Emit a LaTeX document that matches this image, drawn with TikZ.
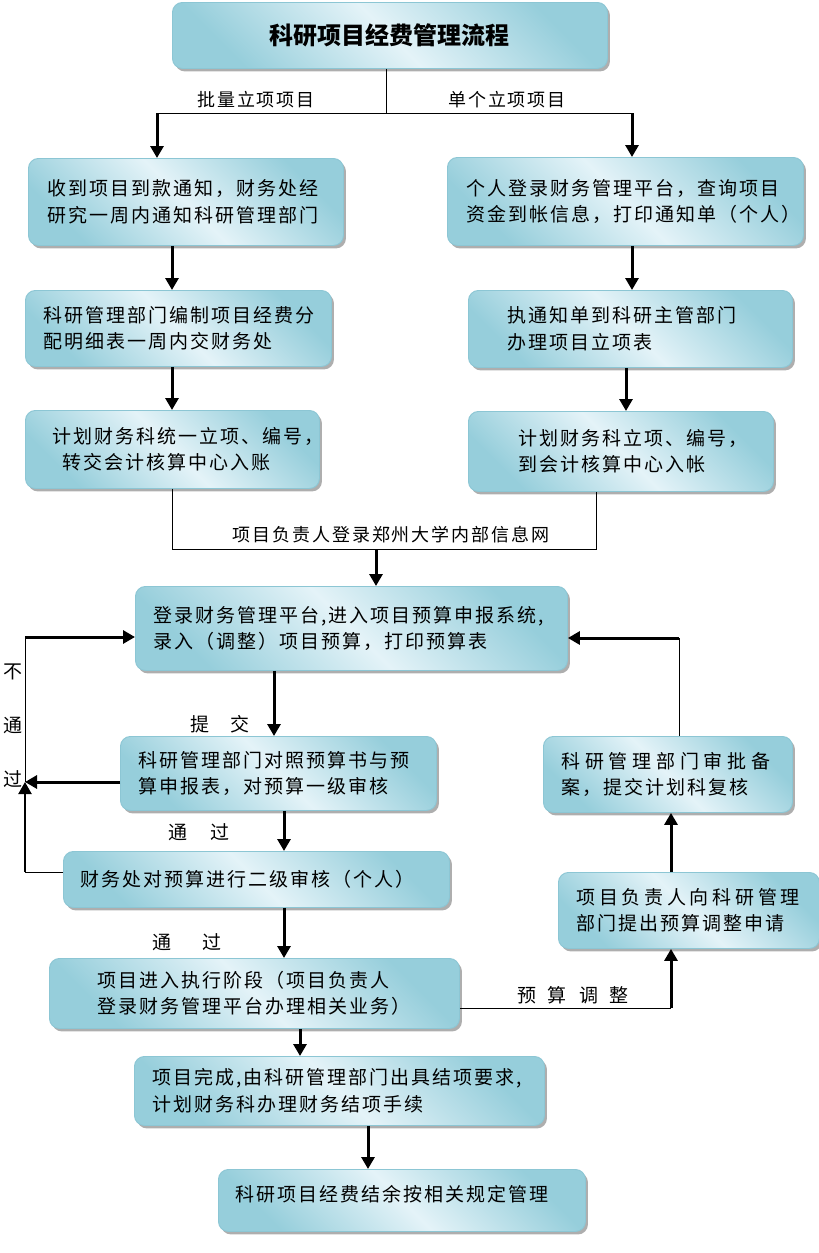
\documentclass[tikz,border=0pt]{standalone}
\usepackage{fontspec}
\setmainfont{Noto Sans CJK SC}
\newfontfamily\cjk[LetterSpace=10.5]{Noto Sans CJK SC}
\usetikzlibrary{arrows.meta,shadows,calc}
\definecolor{boxdark}{HTML}{96CEDB}
\definecolor{boxlight}{HTML}{E4F3F8}
\definecolor{boxborder}{HTML}{8CC6D4}
\newcommand\boxfont{\cjk\fontsize{19}{26.5}\selectfont}
\newcommand\lblfont{\cjk\fontsize{18}{20}\selectfont}
\newcommand\spfont{\fontsize{19}{22}\selectfont}
\tikzset{
  fbox/.style={draw=boxborder, line width=0.9pt, rounded corners=10pt,
    top color=boxdark, bottom color=boxdark, middle color=boxlight, shading angle=-45,
    drop shadow={shadow xshift=2.5pt, shadow yshift=-3pt, fill=black!45, opacity=0.7},
    anchor=north west, align=left, font=\boxfont, text=black, inner xsep=0pt, inner ysep=0pt},
  arr/.style={line width=3pt, -{Triangle[length=12pt,width=13pt]}},
  arrm/.style={line width=2.2pt, -{Triangle[length=12pt,width=13pt]}},
  thinl/.style={line width=1pt},
  lbl/.style={font=\lblfont, inner sep=0pt, text=black},
  splbl/.style={font=\spfont, inner sep=0pt, text=black}
}
\begin{document}
\begin{tikzpicture}[x=1pt,y=-1pt]
\useasboundingbox (0,0) rectangle (819,1253);

% boxes
\node[fbox, text width=435pt, minimum height=66pt, align=center, font=\fontsize{24}{28}\selectfont\bfseries] (title) at (172,2) {科研项目经费管理流程};

\node[fbox, text width=315pt, minimum height=87pt] (L1) at (28,158)
  {\hspace*{19pt}收到项目到款通知，财务处经\\\hspace*{19pt}研究一周内通知科研管理部门};
\node[fbox, text width=356pt, minimum height=88pt] (R1) at (447,157)
  {\hspace*{19pt}个人登录财务管理平台，查询项目\\\hspace*{19pt}资金到帐信息，打印通知单（个人）};
\node[fbox, text width=306pt, minimum height=76pt] (L2) at (25,290)
  {\hspace*{18pt}科研管理部门编制项目经费分\\\hspace*{18pt}配明细表一周内交财务处};
\node[fbox, text width=324pt, minimum height=77pt] (R2) at (468,290)
  {\hspace*{39pt}执通知单到科研主管部门\\\hspace*{39pt}办理项目立项表};
\node[fbox, text width=294pt, minimum height=78pt] (L3) at (25,410)
  {\hspace*{27pt}计划财务科统一立项、编号，\\\hspace*{37pt}转交会计核算中心入账};
\node[fbox, text width=305pt, minimum height=80pt] (R3) at (468,411)
  {\hspace*{50pt}计划财务科立项、编号，\\\hspace*{50pt}到会计核算中心入帐};
\node[fbox, text width=432pt, minimum height=84pt] (B4) at (135,586)
  {\hspace*{18pt}登录财务管理平台,进入项目预算申报系统,\\\hspace*{18pt}录入（调整）项目预算，打印预算表};
\node[fbox, text width=316pt, minimum height=74pt] (B5) at (120,736)
  {\hspace*{18pt}科研管理部门对照预算书与预\\\hspace*{18pt}算申报表，对预算一级审核};
\node[fbox, text width=386pt, minimum height=56pt] (B6) at (63,851)
  {\hspace*{17pt}财务处对预算进行二级审核（个人）};
\node[fbox, text width=410pt, minimum height=70pt] (B7) at (49,958)
  {\hspace*{48pt}项目进入执行阶段（项目负责人\\\hspace*{48pt}登录财务管理平台办理相关业务）};
\node[fbox, text width=261pt, minimum height=76pt] (B8) at (558,872)
  {\hspace*{18pt}{\addfontfeatures{LetterSpace=19.5}项目负责人向科研管理}\\\hspace*{18pt}部门提出预算调整申请};
\node[fbox, text width=249pt, minimum height=76pt] (B9) at (543,736)
  {\hspace*{18pt}{\addfontfeatures{LetterSpace=25}科研管理部门审批备}\\\hspace*{18pt}案，提交计划科复核};
\node[fbox, text width=410pt, minimum height=69pt] (B10) at (134,1056)
  {\hspace*{18pt}项目完成,由科研管理部门出具结项要求,\\\hspace*{18pt}计划财务科办理财务结项手续};
\node[fbox, text width=367pt, minimum height=62pt] (B11) at (218,1169)
  {\hspace*{17pt}科研项目经费结余按相关规定管理\\[-12pt]\mbox{}};

% labels
\node[lbl] (t1) at (256,100) {批量立项项目};
\node[lbl] (t2) at (507,100) {单个立项项目};
\node[lbl] (t3) at (391,535) {项目负责人登录郑州大学内部信息网};
\node[splbl] (t4) at (220,724) {提\hspace{22pt}交};
\node[splbl] (t5) at (199,832) {通\hspace{23pt}过};
\node[splbl] (t6) at (187,942) {通\hspace{32pt}过};
\node[splbl] (t7) at (573,995) {预\hspace{12pt}算\hspace{12pt}调\hspace{12pt}整};
\node[splbl] (t8) at (13,672) {不};
\node[splbl] (t9) at (13,725) {通};
\node[splbl] (t10) at (13,779) {过};

% coordinates
\coordinate (j0) at (386,113);
\coordinate (jl) at (157,113);
\coordinate (jr) at (632,113);
\coordinate (a172) at (172,0);
\coordinate (a626) at (626,0);
\coordinate (m1) at (172,549);
\coordinate (m2) at (596,549);
\coordinate (m3) at (376,549);
\coordinate (a274) at (274,0);
\coordinate (lp1) at (25,637);
\coordinate (lp2) at (25,782);
\coordinate (lp3) at (25,872);
\coordinate (a284) at (284,0);
\coordinate (b1) at (671,1008);
\coordinate (a671) at (671,0);
\coordinate (rp) at (679,638);
\coordinate (a300) at (300,0);
\coordinate (a368) at (368,0);

% connectors
\draw[thinl] (title.south -| j0) -- (j0);
\draw[thinl] (jl) -- (jr);
\draw[arr] (jl) -- (L1.north -| jl);
\draw[arr] (jr) -- (R1.north -| jr);
\draw[arr] (L1.south -| a172) -- (L2.north -| a172);
\draw[arr] (L2.south -| a172) -- (L3.north -| a172);
\draw[arr] (R1.south -| jr) -- (R2.north -| jr);
\draw[arr] (R2.south -| a626) -- (R3.north -| a626);
\draw[thinl] (L3.south -| m1) -- (m1) -- (m2) -- (R3.south -| m2);
\draw[arr] (m3) -- (B4.north -| m3);
\draw[arr] (B4.south -| a274) -- (B5.north -| a274);
\draw[arr] (lp1) -- (B4.west |- lp1);
\draw[thinl] (lp1) -- (lp2);
\draw[arr] (B5.west |- lp2) -- (lp2);
\draw[thinl] (B6.west |- lp3) -- (lp3);
\draw[arrm] (lp3) -- (lp2);
\draw[arr] (B5.south -| a284) -- (B6.north -| a284);
\draw[arr] (B6.south -| a284) -- (B7.north -| a284);
\draw[thinl] (B7.east |- b1) -- (b1);
\draw[arr] (b1) -- (B8.south -| b1);
\draw[arr] (B8.north -| a671) -- (B9.south -| a671);
\draw[thinl] (B9.north -| rp) -- (rp);
\draw[arr] (rp) -- (B4.east |- rp);
\draw[arr] (B7.south -| a300) -- (B10.north -| a300);
\draw[arr] (B10.south -| a368) -- (B11.north -| a368);
\end{tikzpicture}
\end{document}
